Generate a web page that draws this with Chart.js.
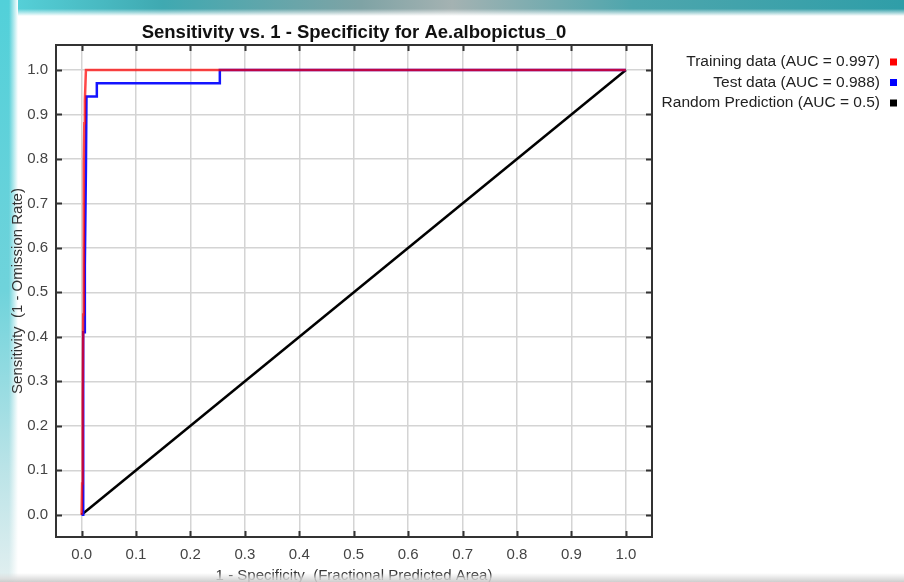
<!DOCTYPE html>
<html>
<head>
<meta charset="utf-8">
<script src="https://cdn.jsdelivr.net/npm/chart.js@4.4.1/dist/chart.umd.min.js"></script>
<style>
    html, body { margin: 0; padding: 0; background: #fff; }
    #wrap { position: relative; width: 904px; height: 582px; overflow: hidden; background: #fff; }
    .strip { position: absolute; }
    #topStrip {
        left: 0; top: 0; width: 904px; height: 16px;
        background: linear-gradient(to bottom, rgba(255,255,255,0) 0%, rgba(255,255,255,0) 55%, #fff 100%),
                    linear-gradient(to right, #58d4dc 0%, #3fa9b1 18%, #7fa3a5 40%, #a4b2b2 50%, #4ea6ad 70%, #2f9ea8 100%);
    }
    #leftStrip {
        left: 0; top: 0; width: 18px; height: 582px;
        background: linear-gradient(to right, rgba(255,255,255,0) 0%, rgba(255,255,255,0) 50%, #fff 100%),
                    linear-gradient(to bottom, #52d0d9 0%, #6fd3db 50%, #b9e3e7 80%, #e2eff0 100%);
    }
    #bottomStrip {
        left: 0; top: 573px; width: 904px; height: 9px;
        background: linear-gradient(to bottom, rgba(255,255,255,0) 0%, rgba(220,220,220,0.8) 60%, rgba(200,200,200,0.9) 100%);
    }
    #chartBox { position: absolute; left: 0; top: 0; width: 904px; height: 582px; }
</style>
</head>
<body>
<div id="wrap">
    <div class="strip" id="topStrip"></div>
    <div class="strip" id="leftStrip"></div>
    <div id="chartBox"><canvas id="rocChart"></canvas></div>
    <div class="strip" id="bottomStrip"></div>
</div>
<script>
// --- DATA ---
const chartTitle = 'Sensitivity vs. 1 - Specificity for Ae.albopictus_0';
const seriesNames = ['Training data (AUC = 0.997)', 'Test data (AUC = 0.988)', 'Random Prediction (AUC = 0.5)'];
const tickValues = [0.0, 0.1, 0.2, 0.3, 0.4, 0.5, 0.6, 0.7, 0.8, 0.9, 1.0];

const trainFpr = [0.000, 0.001, 0.002, 0.003, 0.004, 0.005, 0.006, 0.008, 1.000];
const trainTpr = [0.000, 0.070, 0.250, 0.450, 0.790, 0.880, 0.930, 1.000, 1.000];

const testFpr = [0.000, 0.003, 0.003, 0.006, 0.006, 0.008, 0.009, 0.028, 0.028, 0.254, 0.254, 1.000];
const testTpr = [0.000, 0.000, 0.410, 0.410, 0.560, 0.780, 0.940, 0.940, 0.970, 0.970, 1.000, 1.000];

const randomFpr = [0, 1];
const randomTpr = [0, 1];

const toPoints = (xs, ys) => xs.map((x, i) => ({ x: x, y: ys[i] }));

const FONT = "'Liberation Sans', Arial, sans-serif";

// --- PLUGIN: frame, inward ticks, title, legend ---
const decorations = {
    id: 'decorations',
    beforeDatasetsDraw(chart) {
        const { ctx, chartArea: a, scales: { x, y } } = chart;
        ctx.save();
        ctx.strokeStyle = '#333';
        ctx.lineWidth = 2;
        ctx.beginPath();
        x.ticks.forEach(t => {
            const px = Math.round(x.getPixelForValue(t.value)) + 0.5;
            ctx.moveTo(px, a.top); ctx.lineTo(px, a.top + 6);
            ctx.moveTo(px, a.bottom); ctx.lineTo(px, a.bottom - 6);
        });
        y.ticks.forEach(t => {
            const py = Math.round(y.getPixelForValue(t.value)) + 0.5;
            ctx.moveTo(a.left, py); ctx.lineTo(a.left + 6, py);
            ctx.moveTo(a.right, py); ctx.lineTo(a.right - 6, py);
        });
        ctx.stroke();
        ctx.restore();
    },
    afterDraw(chart) {
        const { ctx, chartArea: a } = chart;
        ctx.save();
        ctx.strokeStyle = '#333';
        ctx.lineWidth = 2;
        ctx.strokeRect(a.left, a.top, a.right - a.left, a.bottom - a.top);

        // title
        ctx.fillStyle = '#111';
        ctx.font = 'bold 18.5px ' + FONT;
        ctx.textAlign = 'center';
        ctx.textBaseline = 'middle';
        ctx.fillText(chartTitle, (a.left + a.right) / 2, 33);

        // legend (text right aligned, square to the right)
        ctx.font = '15.5px ' + FONT;
        ctx.textAlign = 'right';
        chart.data.datasets.forEach((ds, i) => {
            const cy = 62 + i * 20.5;
            ctx.fillStyle = '#222';
            ctx.fillText(ds.label, 880, cy);
            ctx.fillStyle = ds.legendColor;
            ctx.fillRect(890, cy - 3.5, 7, 7);
        });
        ctx.restore();
    }
};

new Chart(document.getElementById('rocChart'), {
    type: 'line',
    data: {
        datasets: [
            {
                label: seriesNames[0],
                data: toPoints(trainFpr, trainTpr),
                borderColor: 'rgba(255, 0, 0, 0.72)',
                legendColor: '#ff0000',
                borderWidth: 2.5,
                pointRadius: 0,
                tension: 0
            },
            {
                label: seriesNames[1],
                data: toPoints(testFpr, testTpr),
                borderColor: '#1414ff',
                legendColor: '#0000ff',
                borderWidth: 2.5,
                pointRadius: 0,
                tension: 0
            },
            {
                label: seriesNames[2],
                data: toPoints(randomFpr, randomTpr),
                borderColor: '#000000',
                legendColor: '#000000',
                borderWidth: 2.5,
                pointRadius: 0,
                tension: 0
            }
        ]
    },
    options: {
        responsive: true,
        maintainAspectRatio: false,
        animation: false,
        layout: { padding: { top: 45, right: 252, left: 0, bottom: 0 } },
        plugins: {
            legend: { display: false },
            title: { display: false },
            tooltip: { enabled: false }
        },
        scales: {
            x: {
                type: 'linear',
                min: -0.047,
                max: 1.048,
                afterBuildTicks: s => { s.ticks = tickValues.map(v => ({ value: v })); },
                afterFit: s => { s.height = 45; },
                grid: { color: '#d4d4d4', lineWidth: 1.5, drawTicks: false },
                border: { display: false },
                ticks: {
                    padding: 9,
                    color: '#444',
                    font: { family: FONT, size: 15 },
                    maxRotation: 0,
                    callback: v => v.toFixed(1)
                },
                title: {
                    display: true,
                    text: '1 - Specificity  (Fractional Predicted Area)',
                    color: '#333',
                    font: { family: FONT, size: 15 },
                    padding: { top: 0, bottom: -3 }
                }
            },
            y: {
                type: 'linear',
                min: -0.05,
                max: 1.056,
                afterBuildTicks: s => { s.ticks = tickValues.map(v => ({ value: v })); },
                afterFit: s => { s.width = 56; },
                grid: { color: '#d4d4d4', lineWidth: 1.5, drawTicks: false },
                border: { display: false },
                ticks: {
                    padding: 8,
                    color: '#444',
                    font: { family: FONT, size: 15 },
                    callback: v => v.toFixed(1)
                },
                title: {
                    display: true,
                    text: 'Sensitivity  (1 - Omission Rate)',
                    color: '#333',
                    font: { family: FONT, size: 15 },
                    padding: { top: 9, bottom: 0 }
                }
            }
        }
    },
    plugins: [decorations]
});
</script>
</body>
</html>
